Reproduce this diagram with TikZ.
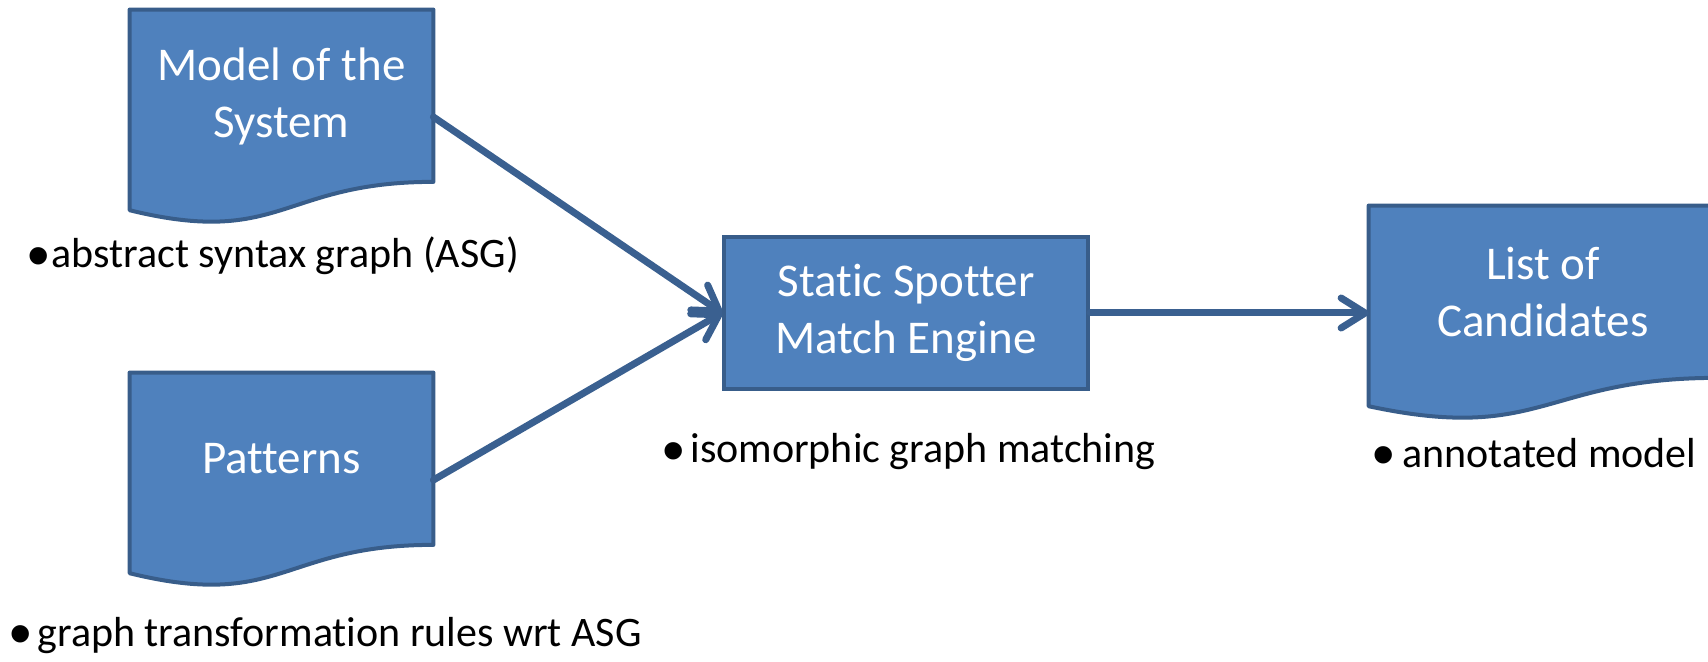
\documentclass[tikz,border=0pt]{standalone}
\usepackage{fontspec}
\setmainfont{Carlito}[Ligatures=NoCommon]
\newfontfamily\bulletfont{Liberation Sans}
\usepackage{tikz}
\usetikzlibrary{arrows.meta,calc,backgrounds}
\definecolor{boxfill}{HTML}{4F81BD}
\definecolor{boxline}{HTML}{385D8A}
\definecolor{arrowblue}{HTML}{3A6090}

% bullet in a box of given width
\newcommand{\notebullet}[1][14pt]{\makebox[#1][l]{\raisebox{-4.7pt}{\fontsize{32pt}{32pt}\bulletfont\textbullet}}}
% wavy document outline behind a docnode
\newcommand{\docoutline}[1]{%
  \begin{pgfonlayer}{background}
    \filldraw[docline] (#1.north west) -- (#1.north east)
      -- ($(#1.north east)!0.802!(#1.south east)$)
      .. controls ($(#1.north)!0.802!(#1.south)$) and ($(#1.north)!1.1075!(#1.south)$)
      .. ($(#1.north west)!0.934!(#1.south west)$) -- cycle;
  \end{pgfonlayer}}

\begin{document}
\begin{tikzpicture}[
    x=0.5pt, y=-0.5pt,
    docnode/.style={rectangle, minimum width=151.5pt, minimum height=107pt, inner sep=0},
    docline/.style={fill=boxfill, draw=boxline, line width=2pt, line join=round},
    doctext/.style={text=white, font=\fontsize{23.5pt}{28.5pt}\selectfont, align=center, yshift=10.5pt},
    procnode/.style={rectangle, fill=boxfill, draw=boxline, line width=2pt, minimum width=182pt, minimum height=76pt, inner sep=0, text=white, font=\fontsize{23.5pt}{28.5pt}\selectfont, align=center},
    notetext/.style={anchor=base west, inner sep=0, font=\fontsize{21pt}{25pt}\selectfont},
    arrow/.style={-{Straight Barb[length=12pt, width=15pt, round]}, line width=3.5pt, draw=arrowblue, line cap=round}
]
    \useasboundingbox (0,0) rectangle (1708,662);

    % Inputs
    \node (model) [docnode, label={[doctext]center:{Model of the\\System}}] at (281.5,117) {};
    \docoutline{model}
    \node (patterns) [docnode, label={[doctext]center:{Patterns}}] at (281.5,480) {};
    \docoutline{patterns}

    % Engine
    \node (engine) [procnode] at (906,313) {Static Spotter\\Match Engine};

    % Output
    \node (candidates) [docnode, minimum width=174pt, label={[doctext]center:{List of\\Candidates}}] at (1543,313) {};
    \docoutline{candidates}

    % Notes
    \node (asgnote) [notetext] at (27,268) {\notebullet[12pt]abstract syntax graph (ASG)};
    \node (rulesnote) [notetext] at (9,646) {\notebullet[14pt]graph transformation rules wrt ASG};
    \node (matchnote) [notetext] at (662,463) {\notebullet[14pt]isomorphic graph matching};
    \node (annotnote) [notetext] at (1372,467) {\notebullet[15pt]annotated model};

    % Arrows
    \draw [arrow] (model.east) -- (engine.west);
    \draw [arrow] (patterns.east) -- (engine.west);
    \draw [arrow] (engine.east) -- (candidates.west);
\end{tikzpicture}
\end{document}
